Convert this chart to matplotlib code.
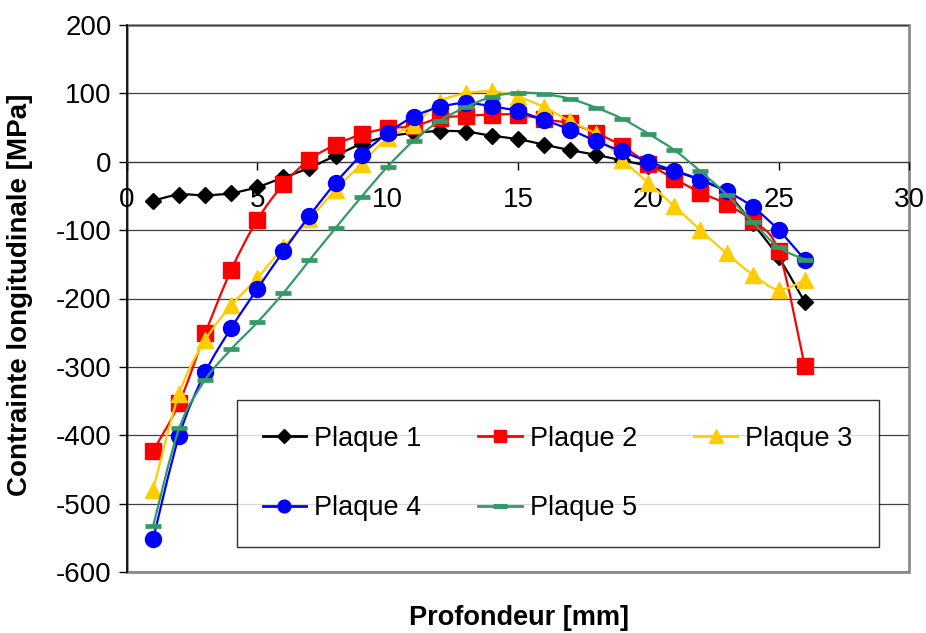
import matplotlib
matplotlib.use('Agg')
import matplotlib.pyplot as plt
from matplotlib.path import Path
from matplotlib.patches import PathPatch, Rectangle
from matplotlib.lines import Line2D

plt.rcParams['font.family'] = ['Liberation Sans', 'DejaVu Sans']
plt.rcParams['axes.unicode_minus'] = False

# depth in mm
depth = list(range(1, 27))

plaque_1 = [-57, -48, -49, -46, -37, -23, -9, 9, 26, 37, 42, 45, 44, 38, 33, 25, 17, 10, 2, -6,
            -14, -27, -46, -90, -140, -205]
plaque_2 = [-423, -353, -251, -158, -85, -33, 3, 25, 40, 49, 52, 64, 67, 69, 69, 62, 56, 42, 23, -3,
            -25, -45, -62, -87, -131, -299]
plaque_3 = [-480, -339, -261, -210, -170, -125, -84, -41, -3, 35, 54, 88, 100, 103, 95, 80, 59, 40, 3, -31,
            -65, -100, -134, -165, -187, -173]
plaque_4 = [-552, -401, -308, -243, -186, -131, -79, -31, 10, 42, 66, 80, 86, 81, 74, 61, 47, 30, 15, 0,
            -13, -26, -43, -66, -100, -143]
plaque_5 = [-533, -390, -319, -274, -235, -192, -144, -97, -51, -7, 31, 60, 80, 95, 101, 99, 92, 79, 63, 41,
            17, -14, -48, -88, -125, -143]

series = [plaque_1, plaque_2, plaque_3, plaque_4, plaque_5]
labels = ['Plaque 1', 'Plaque 2', 'Plaque 3', 'Plaque 4', 'Plaque 5']
colors = ['#000000', '#FF0000', '#FFCC00', '#0000FF', '#339966']
markers = ['D', 's', '^', 'o', '_']
msizes = [8.5, 11, 12, 11.5, 12]


def smooth_path(x, y):
    # Excel-like smoothed line: cubic bezier through every point
    pts = list(zip(x, y))
    verts = [pts[0]]
    codes = [Path.MOVETO]
    n = len(pts)
    for i in range(n - 1):
        p0 = pts[i - 1] if i > 0 else pts[i]
        p1 = pts[i]
        p2 = pts[i + 1]
        p3 = pts[i + 2] if i + 2 < n else pts[i + 1]
        c1 = (p1[0] + (p2[0] - p0[0]) / 6, p1[1] + (p2[1] - p0[1]) / 6)
        c2 = (p2[0] - (p3[0] - p1[0]) / 6, p2[1] - (p3[1] - p1[1]) / 6)
        verts += [c1, c2, p2]
        codes += [Path.CURVE4] * 3
    return Path(verts, codes)


fig = plt.figure(figsize=(9.26, 6.33), dpi=100)
ax = fig.add_axes([127 / 926, 61 / 633, 782 / 926, 547 / 633])

handles = []
for vals, lab, c, m, ms in zip(series, labels, colors, markers, msizes):
    ax.add_patch(PathPatch(smooth_path(depth, vals), facecolor='none', edgecolor=c, lw=1.6, zorder=3))
    if m == '_':
        ax.plot(depth, vals, ls='none', marker=m, ms=ms, mew=3.4, color=c, zorder=3)
        handles.append(Line2D([], [], color=c, lw=2, marker=m, ms=10, mew=3.6))
    else:
        ax.plot(depth, vals, ls='none', marker=m, ms=ms, color=c, mec=c, zorder=3)
        handles.append(Line2D([], [], color=c, lw=2, marker=m, ms=ms * 0.8, mec=c))

ax.set_xlim(0, 30)
ax.set_ylim(-600, 200)
ax.set_xticks(range(0, 31, 5))
ax.set_yticks(range(-600, 201, 100))
ax.set_axisbelow(True)
ax.yaxis.grid(True, color='#404040', lw=0.9)

ax.spines['bottom'].set_position(('data', 0))
ax.spines['bottom'].set_color('#404040')
ax.spines['bottom'].set_linewidth(0.9)
ax.spines['left'].set_color('black')
ax.spines['left'].set_linewidth(1.2)
ax.spines['top'].set_visible(False)
ax.spines['right'].set_visible(False)
ax.add_patch(Rectangle((0, 0), 1, 1, transform=ax.transAxes, fill=False,
                       edgecolor='#8c8c8c', lw=2, clip_on=False, zorder=0.4))

ax.tick_params(axis='x', direction='out', length=6, width=1, pad=12, labelsize=20)
ax.tick_params(axis='y', direction='out', length=6, width=1, pad=5, labelsize=20)

fig.text(20 / 926, 1 - 295 / 633, 'Contrainte longitudinale [MPa]', rotation=90,
         ha='center', va='center', fontsize=20, fontweight='bold')
fig.text(519 / 926, 1 - 618 / 633, 'Profondeur [mm]', ha='center', va='center',
         fontsize=19.5, fontweight='bold')

# row-major legend order (matplotlib fills columns first)
order = [0, 3, 1, 4, 2]
leg = fig.legend([handles[i] for i in order], [labels[i] for i in order], ncol=3, loc='upper left',
                 bbox_to_anchor=(237 / 926, 1 - 400 / 633), borderaxespad=0,
                 fontsize=19.5, frameon=True, fancybox=False, edgecolor='black',
                 handlelength=1.6, handletextpad=0.3, columnspacing=2.1,
                 labelspacing=1.6, borderpad=0.95)
leg.get_frame().set_linewidth(1.0)

fig.savefig('out.png', dpi=100)
